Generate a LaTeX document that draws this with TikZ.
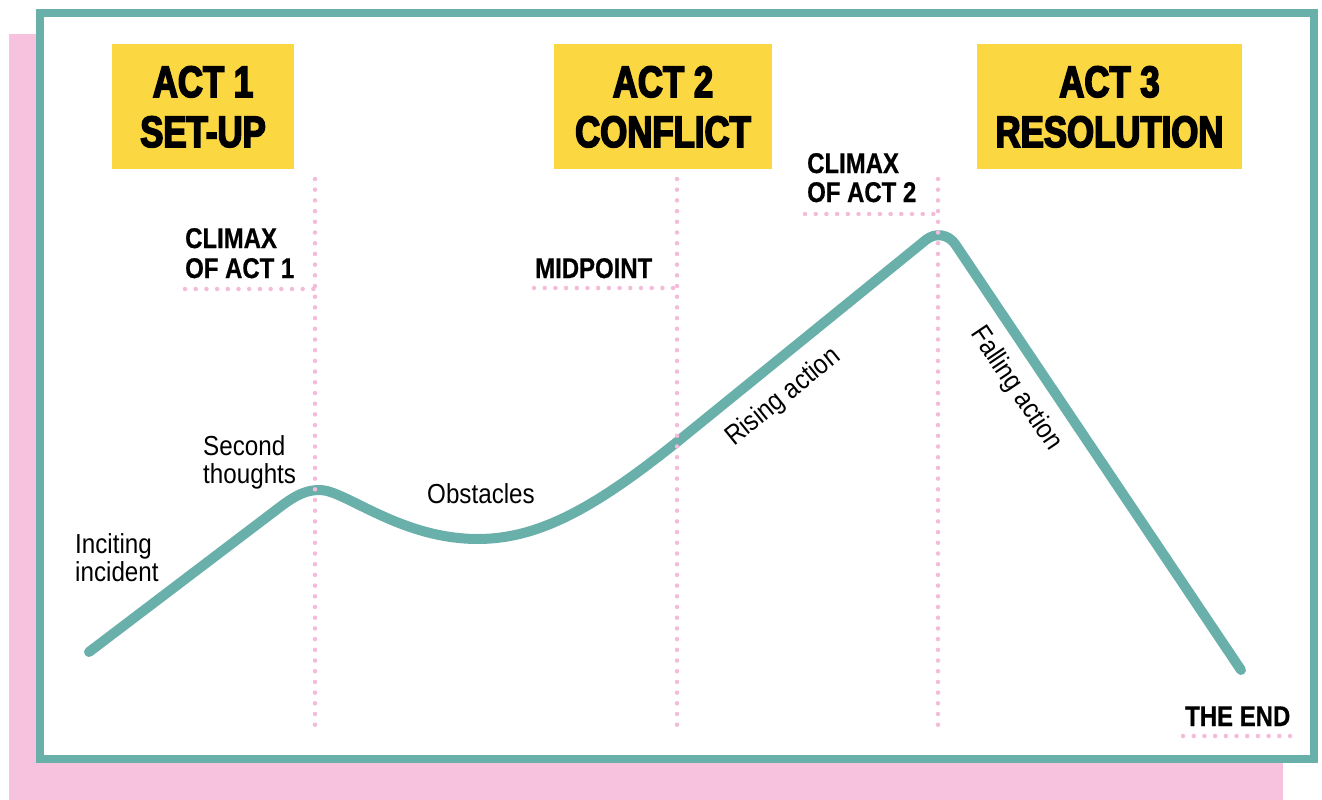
\documentclass[tikz,border=0pt]{standalone}
\usepackage{fontspec}
\setmainfont{Liberation Sans}
\newfontfamily\headfont{Liberation Sans}[FakeStretch=0.79,FakeBold=3.6]
\newfontfamily\tagfont{Liberation Sans}[FakeStretch=0.84,FakeBold=0.6]
\newfontfamily\notefont{Liberation Sans}[FakeStretch=0.88]
\definecolor{arccol}{HTML}{69AFAA}
\definecolor{pinkbg}{HTML}{F6C2DE}
\definecolor{pinkdot}{HTML}{F4BCDA}
\definecolor{actyellow}{HTML}{FBD741}

\begin{document}
\begin{tikzpicture}[x=1pt,y=-1pt,
  actbox/.style={fill=actyellow, inner sep=0pt, minimum width=#1, minimum height=125pt},
  acthead/.style={font=\headfont\bfseries\fontsize{44}{50}\selectfont, inner sep=0pt, anchor=base},
  tag/.style={font=\tagfont\bfseries\fontsize{28.5}{30}\selectfont, inner sep=0pt, anchor=base west},
  note/.style={font=\notefont\fontsize{27.5}{28}\selectfont, inner sep=0pt, anchor=base west},
  guide/.style={pinkdot, line width=4.5pt, line cap=round, dash pattern=on 0pt off 10.7pt},
  storyarc/.style={arccol, line width=10pt, line cap=round, line join=round}]

\useasboundingbox (0,0) rectangle (1322,800);

% backdrop and frame
\fill[pinkbg] (9,34) rectangle (1283,800);
\draw[arccol, line width=8pt, fill=white] (40,13) rectangle (1314,759);

% act headers
\node[actbox=182pt] (act1) at (203,106.5) {};
\node[actbox=218pt] (act2) at (663,106.5) {};
\node[actbox=265pt] (act3) at (1109.5,106.5) {};
\node[acthead] (act1a) at (203,97) {ACT 1};
\node[acthead] (act1b) at (203,147) {SET-UP};
\node[acthead] (act2a) at (663,97) {ACT 2};
\node[acthead] (act2b) at (663,147) {CONFLICT};
\node[acthead] (act3a) at (1109.5,97) {ACT 3};
\node[acthead] (act3b) at (1109.5,147) {RESOLUTION};

% the story arc
\coordinate (start) at (89,652);
\coordinate (rise1) at (280,507);
\coordinate (hump) at (320,490);
\coordinate (valley) at (478,539);
\coordinate (mid) at (677,442);
\coordinate (apex) at (943,226);
\coordinate (finish) at (1241,670);
\draw[storyarc] (start) -- (rise1)
  .. controls (298,493.3) and (308,490) .. (hump)
  .. controls (345,490) and (400,539) .. (valley)
  .. controls (540,539) and (597,506) .. (mid)
  [rounded corners=22pt] -- (apex) -- (finish);

% dotted guides
\coordinate (g1t) at (315,179);  \coordinate (g1b) at (315,735);
\coordinate (g2t) at (677,179);  \coordinate (g2b) at (677,735);
\coordinate (g3t) at (938,179);  \coordinate (g3b) at (938,735);
\coordinate (h1a) at (185,289);  \coordinate (h1b) at (315,289);
\coordinate (h2a) at (534,288);  \coordinate (h2b) at (677,288);
\coordinate (h3a) at (805,214);  \coordinate (h3b) at (938,214);
\coordinate (h4a) at (1183,736); \coordinate (h4b) at (1290,736);
\draw[guide] (g1t) -- (g1b);
\draw[guide] (g2t) -- (g2b);
\draw[guide] (g3t) -- (g3b);
\draw[guide] (h1a) -- (h1b);
\draw[guide] (h2a) -- (h2b);
\draw[guide] (h3a) -- (h3b);
\draw[guide] (h4a) -- (h4b);

% turning-point tags
\node[tag] (cl1a) at (185,248) {CLIMAX};
\node[tag] (cl1b) at (185,278) {OF ACT 1};
\node[tag] (midtag) at (535,278) {MIDPOINT};
\node[tag] (cl2a) at (807,173) {CLIMAX};
\node[tag] (cl2b) at (807,202) {OF ACT 2};
\node[tag] (endtag) at (1185,726) {THE END};

% beat notes
\node[note] (inc1) at (75,553) {Inciting};
\node[note] (inc2) at (75,581) {incident};
\node[note] (sec1) at (203,455) {Second};
\node[note] (sec2) at (203,483) {thoughts};
\node[note] (obst) at (427,503) {Obstacles};
\node[note, anchor=base, rotate=39] (rising) at (788,403) {Rising action};
\node[note, anchor=base, rotate=-56.1] (falling) at (1010,393) {Falling action};
\end{tikzpicture}
\end{document}
